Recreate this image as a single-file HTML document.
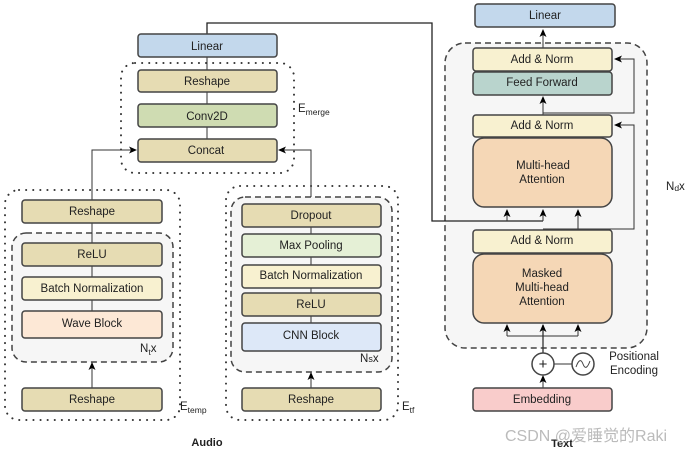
<!DOCTYPE html>
<html><head><meta charset="utf-8"><style>
html,body{margin:0;padding:0;background:#fff;}
svg{display:block;font-family:"Liberation Sans","Noto Sans CJK SC",sans-serif;}
</style></head><body>
<svg width="691" height="451" viewBox="0 0 691 451" xmlns="http://www.w3.org/2000/svg">
<defs>
<marker id="a" markerWidth="8" markerHeight="8" refX="7" refY="4" orient="auto" markerUnits="userSpaceOnUse"><path d="M0,0.5 L8,4 L0,7.5 L2,4z" fill="#000"/></marker>
</defs>
<g font-size="11.5" text-anchor="middle" fill="#222">
<rect x="121" y="63" width="173" height="110" rx="14" fill="none" stroke="#333" stroke-width="2" stroke-dasharray="0.1 7" stroke-linecap="round"/>
<rect x="5" y="190" width="175" height="230" rx="14" fill="none" stroke="#333" stroke-width="2" stroke-dasharray="0.1 7" stroke-linecap="round"/>
<rect x="226" y="186" width="172" height="234" rx="14" fill="none" stroke="#333" stroke-width="2" stroke-dasharray="0.1 7" stroke-linecap="round"/>
<rect x="12" y="233" width="161" height="129" rx="14" fill="#f6f6f6" stroke="#444" stroke-width="1.5" stroke-dasharray="6 4"/>
<rect x="231" y="197" width="161" height="175" rx="14" fill="#f6f6f6" stroke="#444" stroke-width="1.5" stroke-dasharray="6 4"/>
<rect x="445" y="43" width="202" height="305" rx="20" fill="#f6f6f6" stroke="#444" stroke-width="1.5" stroke-dasharray="6 4"/>

<g stroke="#333" stroke-width="1" fill="none">
<line x1="207" y1="57" x2="207" y2="70"/>
<line x1="207" y1="92" x2="207" y2="104"/>
<line x1="207" y1="127" x2="207" y2="139"/>
<polyline points="92,200 92,150 136,150" marker-end="url(#a)"/>
<polyline points="311,197 311,150 279,150" marker-end="url(#a)"/>
<line x1="92" y1="223" x2="92" y2="243"/>
<line x1="92" y1="266" x2="92" y2="277"/>
<line x1="92" y1="300" x2="92" y2="311"/>
<line x1="92" y1="388" x2="92" y2="363" marker-end="url(#a)"/>
<line x1="311" y1="227" x2="311" y2="234"/>
<line x1="311" y1="257" x2="311" y2="265"/>
<line x1="311" y1="288" x2="311" y2="293"/>
<line x1="311" y1="316" x2="311" y2="323"/>
<line x1="311" y1="388" x2="311" y2="373" marker-end="url(#a)"/>
<polyline points="207,34 207,23 432,23 432,221 543,221" stroke="#222" stroke-width="1.3"/>
<line x1="507" y1="221" x2="507" y2="210" marker-end="url(#a)"/>
<line x1="543" y1="221" x2="543" y2="210" marker-end="url(#a)"/>
<line x1="578" y1="229" x2="578" y2="210" marker-end="url(#a)"/>
<polyline points="543,229 634,229 634,125 615,125" marker-end="url(#a)"/>
<line x1="543" y1="115" x2="543" y2="97" marker-end="url(#a)"/>
<polyline points="543,113 634,113 634,59 615,59" marker-end="url(#a)"/>
<line x1="543" y1="48" x2="543" y2="30" marker-end="url(#a)"/>
<line x1="543" y1="353" x2="543" y2="325" marker-end="url(#a)" stroke-width="1.3"/>
<polyline points="507,336 578,336"/>
<line x1="507" y1="336" x2="507" y2="325" marker-end="url(#a)"/>
<line x1="578" y1="336" x2="578" y2="325" marker-end="url(#a)"/>
<line x1="543" y1="388" x2="543" y2="376" marker-end="url(#a)"/>
<line x1="554" y1="364" x2="572" y2="364"/>
</g>

<g stroke="#444" stroke-width="1.5">
<rect x="138" y="34" width="139" height="23" rx="3" fill="#c3d8ec"/>
<rect x="138" y="70" width="139" height="22" rx="3" fill="#e6dcb3"/>
<rect x="138" y="104" width="139" height="23" rx="3" fill="#cfdcb2"/>
<rect x="138" y="139" width="139" height="23" rx="3" fill="#e6dcb3"/>
<rect x="22" y="200" width="140" height="23" rx="3" fill="#e6dcb3"/>
<rect x="22" y="243" width="140" height="23" rx="3" fill="#e6dcb3"/>
<rect x="22" y="277" width="140" height="23" rx="3" fill="#f8f1d0"/>
<rect x="22" y="311" width="140" height="27" rx="3" fill="#fde8d6"/>
<rect x="22" y="388" width="140" height="23" rx="3" fill="#e6dcb3"/>
<rect x="242" y="204" width="139" height="23" rx="3" fill="#e6dcb3"/>
<rect x="242" y="234" width="139" height="23" rx="3" fill="#e5f0d6"/>
<rect x="242" y="265" width="139" height="23" rx="3" fill="#f8f1d0"/>
<rect x="242" y="293" width="139" height="23" rx="3" fill="#e6dcb3"/>
<rect x="242" y="323" width="139" height="28" rx="3" fill="#dde8f8"/>
<rect x="242" y="388" width="139" height="23" rx="3" fill="#e6dcb3"/>
<rect x="475" y="4" width="140" height="23" rx="3" fill="#c3d8ec"/>
<rect x="473" y="48" width="139" height="23" rx="3" fill="#f8f1d0"/>
<rect x="473" y="72" width="139" height="23" rx="3" fill="#b9d4cd"/>
<rect x="473" y="115" width="139" height="22" rx="3" fill="#f8f1d0"/>
<rect x="473" y="138" width="139" height="69" rx="11" fill="#f5d7b6"/>
<rect x="473" y="230" width="139" height="23" rx="3" fill="#f8f1d0"/>
<rect x="473" y="254" width="139" height="69" rx="11" fill="#f5d7b6"/>
<rect x="473" y="388" width="139" height="23" rx="3" fill="#f9cccb"/>
<circle cx="543" cy="364" r="11" fill="#fff"/>
<circle cx="583" cy="364" r="11" fill="#fff"/>
</g>
<path d="M576,367 Q580,356 583,364 Q586,372 590,361" fill="none" stroke="#444" stroke-width="1"/>
<text x="543" y="369" font-size="15">+</text>

<text x="207" y="50">Linear</text>
<text x="207" y="85">Reshape</text>
<text x="207" y="120">Conv2D</text>
<text x="206" y="154">Concat</text>
<text x="92" y="215">Reshape</text>
<text x="92" y="258">ReLU</text>
<text x="92" y="292">Batch Normalization</text>
<text x="92" y="327">Wave Block</text>
<text x="92" y="403">Reshape</text>
<text x="311" y="219">Dropout</text>
<text x="311" y="249">Max Pooling</text>
<text x="311" y="279">Batch Normalization</text>
<text x="311" y="308">ReLU</text>
<text x="311" y="339">CNN Block</text>
<text x="311" y="403">Reshape</text>
<text x="545" y="19">Linear</text>
<text x="542" y="63">Add &amp; Norm</text>
<text x="542" y="86">Feed Forward</text>
<text x="542" y="129">Add &amp; Norm</text>
<text x="543" y="169">Multi-head</text>
<text x="542" y="183">Attention</text>
<text x="542" y="244">Add &amp; Norm</text>
<text x="542" y="277">Masked</text>
<text x="542" y="291">Multi-head</text>
<text x="542" y="305">Attention</text>
<text x="542" y="403">Embedding</text>
<text x="634" y="360">Positional</text>
<text x="634" y="374">Encoding</text>
<text x="207" y="446" font-weight="bold" font-size="11">Audio</text>
<text x="562" y="447" font-weight="bold" font-size="11">Text</text>
</g>
<g font-size="11.5" fill="#222">
<text x="298" y="112">E<tspan font-size="8.5" dy="3">merge</tspan></text>
<text x="140" y="352">N<tspan font-size="8.5" dy="3">t</tspan><tspan dy="-3">x</tspan></text>
<text x="360" y="362">N<tspan font-size="9">s</tspan>x</text>
<text x="180" y="410">E<tspan font-size="8.5" dy="3">temp</tspan></text>
<text x="402" y="410">E<tspan font-size="8.5" dy="3">tf</tspan></text>
<text x="666" y="190">N<tspan font-size="8.5" dy="1">d</tspan><tspan dy="-1">x</tspan></text>
</g>
<text x="505" y="441" font-size="16" fill="#bbb" font-family="Liberation Sans, Noto Sans CJK SC, sans-serif">CSDN @爱睡觉的Raki</text>
</svg>
</body></html>
